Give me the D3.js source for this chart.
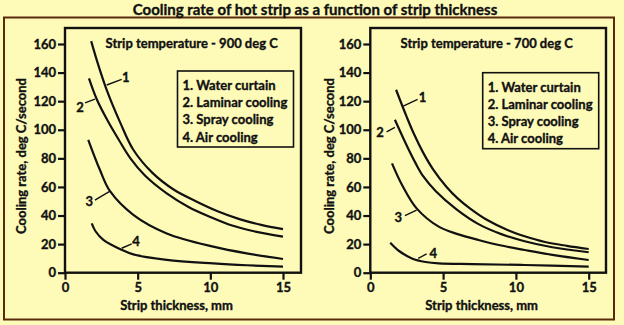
<!DOCTYPE html>
<html><head><meta charset="utf-8">
<script src="https://cdn.jsdelivr.net/npm/d3@7"></script>
<style>
html,body{margin:0;padding:0;background:#fefbb9;}
svg{display:block;}
text{font-family:Lato,"Open Sans",sans-serif;font-weight:700;fill:#111;stroke:#111;stroke-width:0.35px;}
</style></head><body>
<svg id="c" width="624" height="325"></svg>
<script>
const title = "Cooling rate of hot strip as a function of strip thickness";
const yLabel = "Cooling rate, deg C/second";
const xLabel = "Strip thickness, mm";
const legendItems = ["1. Water curtain","2. Laminar cooling","3. Spray cooling","4. Air cooling"];
const xTicks = [0,5,10,15];
const yTicks = [0,20,40,60,80,100,120,140,160];
const panelTitles = ["Strip temperature - 900 deg C","Strip temperature - 700 deg C"];

// Panel 1 (900 deg C)
const p1_water_x = [1.8,2.3,2.9,3.8,4.7,6.0,7.5,9.0,10.5,12,13.5,15];
const p1_water_y = [162,145,127,105,86,70,58,50,43,37.5,33.5,30.5];
const p1_laminar_x = [1.65,2.2,2.9,3.7,4.5,5.5,7.0,8.5,10,11.5,13,15];
const p1_laminar_y = [136,121,107,93,80,68,55.5,46,39,33,29,25.2];
const p1_spray_x = [1.6,2.4,3.1,4.7,7.0,10.2,12.5,15];
const p1_spray_y = [93,72,57,40.5,27.5,18.2,13.5,9.6];
const p1_air_x = [1.84,2.1,2.64,3.9,4.7,7,10.2,12.5,15];
const p1_air_y = [34.5,29,23,16,12.8,9,6.5,5.2,4.2];

// Panel 2 (700 deg C)
const p2_water_x = [1.77,2.5,3.0,3.63,4.3,5.24,6.0,6.84,8.0,9.5,10.6,12,13.5,15];
const p2_water_y = [128,109,97,84,72.5,60,52,45,37,29.5,25.5,21.5,18.8,16.6];
const p2_laminar_x = [1.69,2.5,3.09,3.63,4.5,5.9,7.43,9,10.6,12.5,15];
const p2_laminar_y = [107,89,77,67.5,57,44.5,34,27,22,17.8,14.3];
const p2_spray_x = [1.49,2.2,3.18,4.7,6,7.43,9,10.6,12.5,15];
const p2_spray_y = [76.5,61,45,32.2,27,22.9,19,15.9,12.5,8.9];
const p2_air_x = [1.37,2,2.86,3.8,4.7,7,10.6,15];
const p2_air_y = [21,15,10,7.5,6.5,6,5.4,4.2];

// curve labels: [label, textX, textY, leadX1, leadY1, leadX2, leadY2] in data units
const p1_labels = [
  ["1",4.18,137.1,2.87,131.3,3.9,135.3],
  ["2",1.03,116.1,1.38,118.8,2.06,121.4],
  ["3",1.67,50.3,2.06,50.8,3.1,57.1],
  ["4",4.89,22.4,3.9,17.1,4.59,20.1]
];
const p2_labels = [
  ["1",3.59,122.7,2.26,116.6,3.25,121.3],
  ["2",0.67,98.6,1.12,98.6,1.69,101.7],
  ["3",1.92,39.2,2.38,39.9,3.18,43.8],
  ["4",4.32,14,3.29,10.1,3.87,13.1]
];

const svg = d3.select("#c");
const W=624,H=325;
svg.append("rect").attr("x",0).attr("y",0).attr("width",W).attr("height",H).attr("fill","#fefbb9");
svg.append("rect").attr("x",4).attr("y",17.5).attr("width",610).attr("height",302)
  .attr("fill","none").attr("stroke","#5a2a0c").attr("stroke-width",2);
svg.append("text").attr("x",315).attr("y",9).attr("text-anchor","middle")
  .attr("dominant-baseline","central").style("font-size","15px").text(title);

const panels = [
  {x0:65, x15:283, right:301, ptitle:panelTitles[0], ptx:191.7, ylx:20.5, series:[[p1_water_x,p1_water_y],[p1_laminar_x,p1_laminar_y],[p1_spray_x,p1_spray_y],[p1_air_x,p1_air_y]], labels:p1_labels, leg:[177.5,71,116,76]},
  {x0:370.3, x15:588.7, right:606, ptitle:panelTitles[1], ptx:486.7, ylx:329, series:[[p2_water_x,p2_water_y],[p2_laminar_x,p2_laminar_y],[p2_spray_x,p2_spray_y],[p2_air_x,p2_air_y]], labels:p2_labels, leg:[482.7,72.7,116,76]}
];
const boxTop=28, y0=272.7, y160=44;

panels.forEach(p=>{
  const x = d3.scaleLinear().domain([0,15]).range([p.x0,p.x15]);
  const y = d3.scaleLinear().domain([0,160]).range([y0,y160]);
  const g = svg.append("g");
  g.append("rect").attr("x",p.x0).attr("y",boxTop).attr("width",p.right-p.x0).attr("height",y0-boxTop)
    .attr("fill","none").attr("stroke","#111").attr("stroke-width",2.4);
  const ya = d3.axisLeft(y).tickValues(yTicks).tickSize(7).tickPadding(2);
  const yg = g.append("g").attr("transform",`translate(${p.x0},0)`).call(ya);
  const xa = d3.axisBottom(x).tickValues(xTicks).tickSize(7).tickPadding(3);
  const xg = g.append("g").attr("transform",`translate(0,${y0})`).call(xa);
  [yg,xg].forEach(a=>{
    a.select(".domain").remove();
    a.selectAll(".tick line").attr("stroke","#111").attr("stroke-width",2.2);
    a.selectAll(".tick text").style("font-family","Lato, sans-serif").style("font-weight","700").style("font-size","13px").attr("fill","#111");
  });
  g.append("text").attr("transform",`translate(${p.ylx},156) rotate(-90)`).attr("text-anchor","middle")
    .attr("dominant-baseline","central").style("font-size","13px").text(yLabel);
  g.append("text").attr("x",(p.x0+p.right)/2-6.5).attr("y",305).attr("text-anchor","middle")
    .attr("dominant-baseline","central").style("font-size","13px").text(xLabel);
  g.append("text").attr("x",p.ptx).attr("y",43).attr("text-anchor","middle")
    .attr("dominant-baseline","central").style("font-size","13px").text(p.ptitle);
  const line = d3.line().x(d=>x(d[0])).y(d=>y(d[1])).curve(d3.curveCatmullRom.alpha(0.5));
  p.series.forEach(s=>{
    const pts = s[0].map((v,i)=>[v,s[1][i]]);
    g.append("path").attr("d",line(pts)).attr("fill","none").attr("stroke","#111").attr("stroke-width",2.2);
  });
  p.labels.forEach(l=>{
    g.append("line").attr("x1",x(l[3])).attr("y1",y(l[4])).attr("x2",x(l[5])).attr("y2",y(l[6]))
      .attr("stroke","#111").attr("stroke-width",1.4);
    g.append("text").attr("x",x(l[1])).attr("y",y(l[2])).attr("text-anchor","middle")
      .attr("dominant-baseline","central").style("font-size","13px").text(l[0]);
  });
  const [lx,ly,lw,lh]=p.leg;
  g.append("rect").attr("x",lx).attr("y",ly).attr("width",lw).attr("height",lh)
    .attr("fill","none").attr("stroke","#111").attr("stroke-width",1.6);
  legendItems.forEach((t,i)=>{
    g.append("text").attr("x",lx+5).attr("y",ly+14+i*17.2).attr("dominant-baseline","central")
      .style("font-size","13px").text(t);
  });
});
</script>
</body></html>
